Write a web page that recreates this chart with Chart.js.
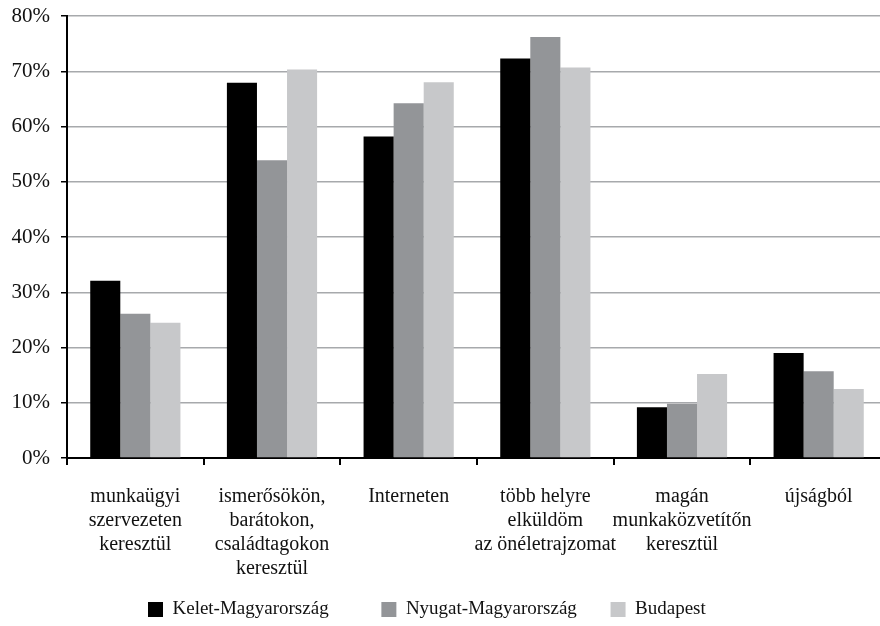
<!DOCTYPE html>
<html>
<head>
<meta charset="utf-8">
<script src="https://cdn.jsdelivr.net/npm/chart.js@4/dist/chart.umd.min.js"></script>
<style>
  html, body { margin: 0; padding: 0; background: #fff; overflow: hidden; }
  #wrap { width: 887px; height: 626px; }
</style>
</head>
<body>
<div id="wrap"><canvas id="chart"></canvas></div>
<script>
// ── data ─────────────────────────────────────────────────────────────
const categories = [
  ['munkaügyi', 'szervezeten', 'keresztül'],
  ['ismerősökön,', 'barátokon,', 'családtagokon', 'keresztül'],
  ['Interneten'],
  ['több helyre', 'elküldöm', 'az önéletrajzomat'],
  ['magán', 'munkaközvetítőn', 'keresztül'],
  ['újságból'],
];
const seriesNames = ['Kelet-Magyarország', 'Nyugat-Magyarország', 'Budapest'];
const kelet = [32.1, 67.9, 58.2, 72.3, 9.2, 19.0];
const nyugat = [26.1, 53.9, 64.2, 76.2, 9.8, 15.7];
const budapest = [24.5, 70.3, 68.0, 70.7, 15.2, 12.5];
const yTicks = [0, 10, 20, 30, 40, 50, 60, 70, 80];

// ── colors ───────────────────────────────────────────────────────────
const COLORS = {
  kelet: '#000000',
  nyugat: '#939598',
  budapest: '#c7c8ca',
  grid: '#a7a9ac',
  axis: '#000000',
  text: '#111111',
};

const FONT = { family: '"Liberation Serif", "Times New Roman", serif', size: 20 };
// trailing spaces after each legend entry, to space them like the original
const LEGEND_TAILS = ['         ', '     ', '       '];

// pin the legend box height so the bottom layout matches
const legendHeight = {
  id: 'legendHeight',
  beforeInit(chart) {
    const fit = chart.legend.fit;
    chart.legend.fit = function () {
      fit.call(this);
      this.height = 36;
    };
  },
};

const ctx = document.getElementById('chart').getContext('2d');
new Chart(ctx, {
  type: 'bar',
  data: {
    labels: categories,
    datasets: [
      { label: seriesNames[0], data: kelet, backgroundColor: COLORS.kelet },
      { label: seriesNames[1], data: nyugat, backgroundColor: COLORS.nyugat },
      { label: seriesNames[2], data: budapest, backgroundColor: COLORS.budapest },
    ],
  },
  plugins: [legendHeight],
  options: {
    responsive: true,
    maintainAspectRatio: false,
    animation: false,
    datasets: {
      bar: { categoryPercentage: 0.66, barPercentage: 1.0 },
    },
    layout: { padding: 0 },
    plugins: {
      legend: {
        position: 'bottom',
        labels: {
          color: COLORS.text,
          font: { ...FONT, size: 19 },
          boxWidth: 15,
          boxHeight: 15,
          padding: 10,
          generateLabels: (chart) => {
            const items = Chart.defaults.plugins.legend.labels.generateLabels(chart);
            items.forEach((it, i) => {
              it.lineWidth = 0;
              it.text = it.text + (LEGEND_TAILS[i] || '');
            });
            return items;
          },
        },
      },
      tooltip: { enabled: false },
    },
    scales: {
      x: {
        afterFit: (scale) => { scale.height = 132; },
        ticks: {
          color: COLORS.text,
          font: FONT,
          maxRotation: 0,
          autoSkip: false,
          padding: 20,
        },
        grid: {
          display: true,
          drawOnChartArea: false,
          color: COLORS.axis,
          tickColor: COLORS.axis,
          tickLength: 7,
          lineWidth: 2,
        },
        border: { color: COLORS.axis, width: 2 },
      },
      y: {
        min: 0,
        max: 80,
        afterFit: (scale) => {
          scale.width = 67;
          scale.paddingTop = 16;
          scale.paddingBottom = 0;
        },
        afterBuildTicks: (axis) => {
          axis.ticks = yTicks.map(v => ({ value: v }));
        },
        ticks: {
          color: COLORS.text,
          font: { ...FONT, size: 21, lineHeight: 1 },
          padding: 11,
          callback: (v) => v + '%',
        },
        grid: {
          color: COLORS.grid,
          lineWidth: 1.5,
          tickColor: COLORS.axis,
          tickLength: 6,
        },
        border: { color: COLORS.axis, width: 2 },
      },
    },
  },
});
</script>
</body>
</html>
